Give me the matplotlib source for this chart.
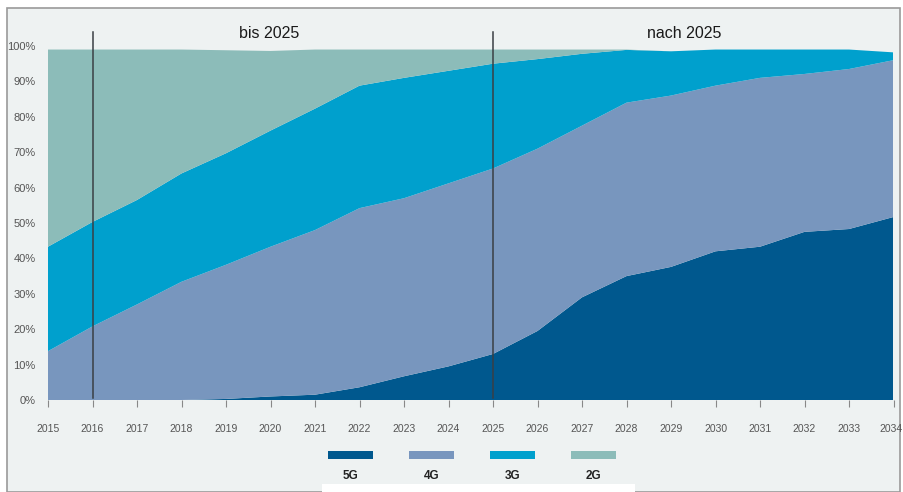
import numpy as np
import matplotlib.pyplot as plt
from matplotlib.patches import Rectangle
from matplotlib.transforms import ScaledTranslation

# share of connections per technology (percent)
years = list(range(2015, 2035))
g5 = [0, 0, 0, 0, 0.3, 1.0, 1.5, 3.6, 6.7, 9.5, 13.0, 19.5, 29.0, 35.0, 37.6, 42.0, 43.3, 47.5, 48.3, 51.7]
g4 = [13.8, 20.8, 27.0, 33.4, 37.9, 42.3, 46.5, 50.6, 50.3, 51.7, 52.4, 51.5, 48.5, 49.0, 48.4, 46.8, 47.7, 44.6, 45.2, 44.3]
g3 = [29.5, 29.5, 29.5, 30.6, 31.5, 32.8, 34.3, 34.6, 34.0, 31.8, 29.6, 25.3, 20.3, 14.9, 12.5, 10.2, 8.0, 6.9, 5.5, 2.2]
g2 = [55.7, 48.7, 42.5, 35.0, 29.1, 22.5, 16.7, 10.2, 8.0, 6.0, 4.0, 2.7, 1.2, 0.1, 0, 0, 0, 0, 0, 0]
series_names = ["5G", "4G", "3G", "2G"]
colors = ["#00588e", "#7896be", "#00a0cd", "#8cbcb9"]
y_ticks = list(range(0, 101, 10))
period_labels = ["bis 2025", "nach 2025"]
period_lines = [2016, 2025]

W, H = 904, 492
bg = "#eef2f2"
narrow = ["Liberation Sans Narrow", "Liberation Sans", "DejaVu Sans"]
plt.rcParams["font.family"] = ["Liberation Sans", "DejaVu Sans"]

fig = plt.figure(figsize=(W / 100, H / 100), dpi=100)
fig.patch.set_facecolor("white")

# outer frame of the picture
fig.add_artist(Rectangle((7 / W, 0), (900 - 7) / W, (H - 8) / H, transform=fig.transFigure,
                         facecolor=bg, edgecolor="#9a9a9a", linewidth=1.2, zorder=-5))
fig.add_artist(Rectangle((322 / W, 0), (635 - 322) / W, 8 / H, transform=fig.transFigure,
                         facecolor="white", edgecolor="none", zorder=-4))

# axes: 0% at y=400px, 100% at y=46px, ylim up to 105
x0, x1 = 48, 893.5
y_zero, y_hundred = 400, 46
px_per = (y_zero - y_hundred) / 100
ytop = 105
ax = fig.add_axes([x0 / W, 1 - y_zero / H, (x1 - x0) / W, ytop * px_per / H])
ax.set_facecolor("none")

ax.stackplot(years, g5, g4, g3, g2, colors=colors, linewidth=0)

ax.set_xlim(2015, 2034)
ax.set_ylim(0, ytop)

for yr in period_lines:
    ax.plot([yr, yr], [0.5, 104], color="#3a3f44", linewidth=1.1, zorder=5)

ax.text(2019.97, 103.6, period_labels[0], ha="center", va="center", fontsize=11.5, color="#1a1a1a")
ax.text(2029.3, 103.6, period_labels[1], ha="center", va="center", fontsize=11.5, color="#1a1a1a")

for s in ax.spines.values():
    s.set_visible(False)

ax.set_xticks(years)
ax.set_xticklabels([str(y) for y in years], fontsize=7.5, color="#555555", family=narrow)
ax.tick_params(axis="x", length=5, color="#888888", pad=12)
# keep the last year label inside the picture
last = ax.get_xticklabels()[-1]
last.set_transform(last.get_transform() + ScaledTranslation(-3 / 100, 0, fig.dpi_scale_trans))
ax.set_yticks(y_ticks)
ax.set_yticklabels([f"{v}%" for v in y_ticks], fontsize=8, color="#555555", family=narrow)
ax.tick_params(axis="y", length=0, pad=9)

# legend below the chart
leg_x = [328, 409, 490, 571]
for name, c, lx in zip(series_names, colors, leg_x):
    fig.add_artist(Rectangle((lx / W, 1 - 459 / H), 45 / W, 8 / H, transform=fig.transFigure,
                             facecolor=c, edgecolor="none"))
    fig.text((lx + 22.5) / W, 1 - 476 / H, name, ha="center", va="center",
             fontsize=8.5, fontweight="bold", color="#222222")

fig.savefig("out.png", dpi=100, facecolor=fig.get_facecolor())
